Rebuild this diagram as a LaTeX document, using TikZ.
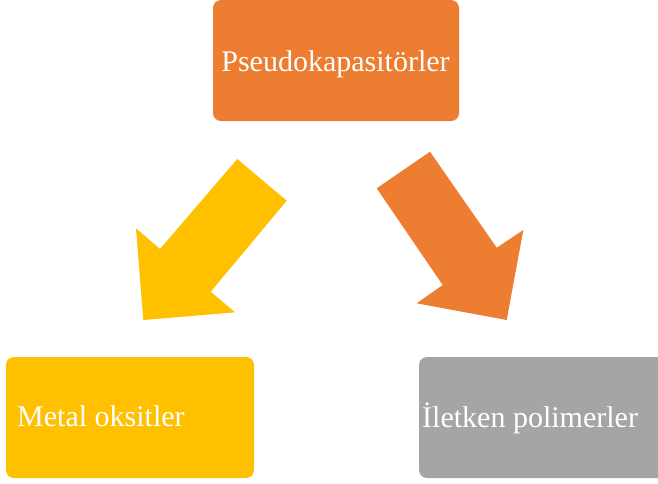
\documentclass[tikz,border=0pt]{standalone}
\usepackage{fontspec}
\setmainfont{Liberation Serif}
\definecolor{accorange}{HTML}{ED7D31}
\definecolor{accyellow}{HTML}{FFC000}
\definecolor{accgray}{HTML}{A5A5A5}
\tikzset{
  boxshape/.style={rounded corners=8pt, minimum width=246pt, minimum height=121pt, inner sep=0pt, draw=none},
  lbl/.style={text=white, font=\fontsize{30}{35}\selectfont, inner sep=0pt},
  blockarrow/.style={draw=none}
}
\begin{document}
\begin{tikzpicture}[x=1pt,y=-1pt]
\clip (0,0) rectangle (658,483);
% boxes
\node[boxshape, fill=accorange] (top) at (336,60.5) {};
\node[lbl, anchor=base] (toptext) at (335.5,71.5) {Pseudokapasitörler};
\node[boxshape, fill=accyellow, minimum width=248pt] (left) at (130,417.5) {};
\node[lbl, anchor=base west] (lefttext) at (17,426) {Metal oksitler};
\node[boxshape, fill=accgray, minimum width=248pt] (right) at (543,417.5) {};
\node[lbl, anchor=base west] (righttext) at (422,427) {İletken polimerler};
% block arrows
\fill[accyellow, blockarrow] (237.3,159) -- (286.7,200.7) -- (210.7,291.7) -- (235,312.3)
  -- (143.3,320) -- (136,228.3) -- (160,249) -- cycle;
\fill[accorange, blockarrow] (376.7,188.3) -- (430,151.7) -- (496.7,247.7) -- (523.3,230)
  -- (506.7,320) -- (416.7,303.3) -- (442.7,285) -- cycle;
\end{tikzpicture}
\end{document}
